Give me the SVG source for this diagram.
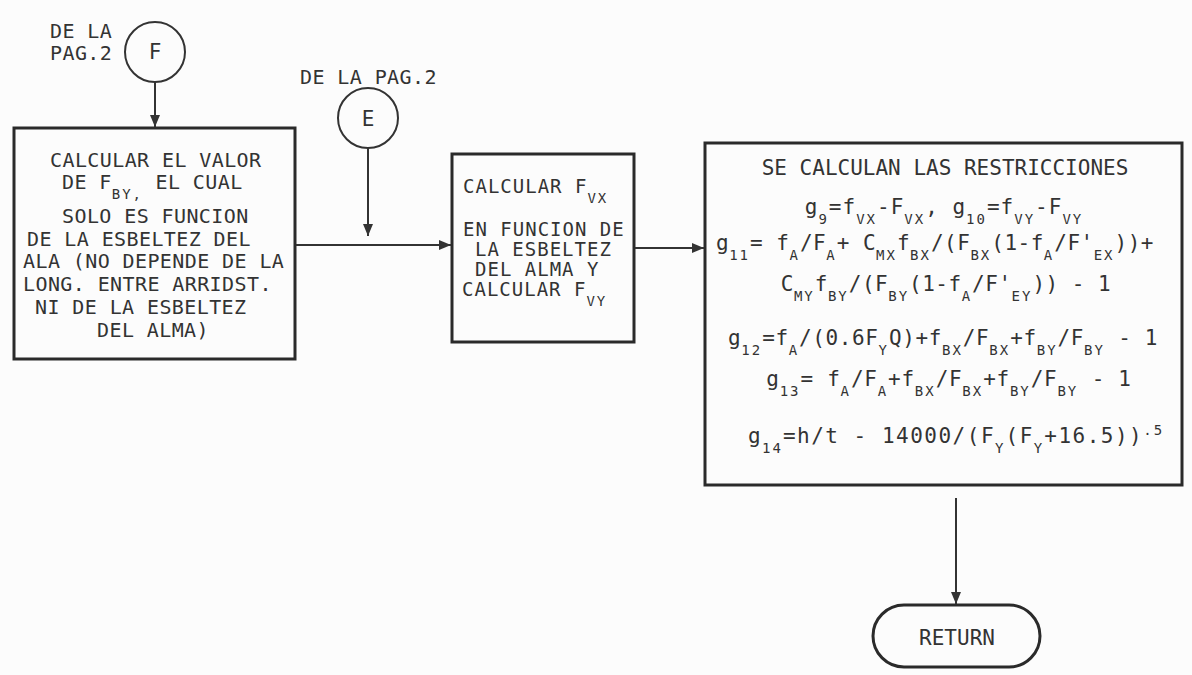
<svg xmlns="http://www.w3.org/2000/svg" width="1192" height="675" viewBox="0 0 1192 675">
<defs>
<style>
.t{font-family:"DejaVu Sans Mono","Liberation Mono",monospace;font-size:21px;fill:#333}
.a{font-size:20px;letter-spacing:0.4px}
.b{font-size:19px;letter-spacing:1px}
.m{text-anchor:middle}
.s{font-size:14px;letter-spacing:2px}
.box{fill:none;stroke:#2a2a2a;stroke-width:3}
.thin{fill:none;stroke:#333;stroke-width:2}
.con{fill:none;stroke:#333;stroke-width:2}
</style>
<marker id="ah" viewBox="0 0 12 10" refX="12" refY="5" markerWidth="12" markerHeight="10" markerUnits="userSpaceOnUse" orient="auto">
<path d="M0,0 L12,5 L0,10 Z" fill="#333"/>
</marker>
</defs>
<rect width="1192" height="675" fill="#fcfcfc"/>

<g id="connF-label">
<text class="t a" x="50" y="38">DE LA</text>
<text class="t a" x="50" y="60">PAG.2</text>
</g>
<g id="nodeF">
<circle class="thin" cx="155" cy="52" r="30"/>
<text class="t m" x="155" y="59">F</text>
</g>

<g id="connE-label">
<text class="t a" x="300" y="84">DE LA PAG.2</text>
</g>
<g id="nodeE">
<circle class="thin" cx="368" cy="118" r="30"/>
<text class="t m" x="368" y="126">E</text>
</g>

<g id="box1">
<rect class="box" x="14" y="128" width="281" height="231"/>
<text class="t a" x="50" y="167">CALCULAR EL VALOR</text>
<text class="t a" x="62" y="189">DE F<tspan class="s" dy="10">BY,</tspan><tspan dy="-10"> EL CUAL</tspan></text>
<text class="t a" x="62" y="223">SOLO ES FUNCION</text>
<text class="t a" x="27" y="246">DE LA ESBELTEZ DEL</text>
<text class="t a" x="23" y="268">ALA (NO DEPENDE DE LA</text>
<text class="t a" x="23" y="291">LONG. ENTRE ARRIDST.</text>
<text class="t a" x="35" y="314">NI DE LA ESBELTEZ</text>
<text class="t a" x="97" y="337">DEL ALMA)</text>
</g>

<g id="box2">
<rect class="box" x="452" y="154" width="182" height="188"/>
<text class="t b" x="463" y="193">CALCULAR F<tspan class="s" dy="10">VX</tspan></text>
<text class="t b" x="463" y="236">EN FUNCION DE</text>
<text class="t b" x="475" y="256">LA ESBELTEZ</text>
<text class="t b" x="475" y="276">DEL ALMA Y</text>
<text class="t b" x="462" y="296">CALCULAR F<tspan class="s" dy="10">VY</tspan></text>
</g>

<g id="box3">
<rect class="box" x="705" y="143" width="477" height="342"/>
<text class="t m" x="945" y="175">SE CALCULAN LAS RESTRICCIONES</text>
<text class="t m" x="944" y="214" letter-spacing="1">g<tspan class="s" dy="10">9</tspan><tspan dy="-10">=f</tspan><tspan class="s" dy="10">VX</tspan><tspan dy="-10">-F</tspan><tspan class="s" dy="10">VX</tspan><tspan dy="-10">, g</tspan><tspan class="s" dy="10">10</tspan><tspan dy="-10">=f</tspan><tspan class="s" dy="10">VY</tspan><tspan dy="-10">-F</tspan><tspan class="s" dy="10">VY</tspan></text>
<text class="t m" x="935" y="250" letter-spacing="0.5">g<tspan class="s" dy="10">11</tspan><tspan dy="-10">= f</tspan><tspan class="s" dy="10">A</tspan><tspan dy="-10">/F</tspan><tspan class="s" dy="10">A</tspan><tspan dy="-10">+ C</tspan><tspan class="s" dy="10">MX</tspan><tspan dy="-10">f</tspan><tspan class="s" dy="10">BX</tspan><tspan dy="-10">/(F</tspan><tspan class="s" dy="10">BX</tspan><tspan dy="-10">(1-f</tspan><tspan class="s" dy="10">A</tspan><tspan dy="-10">/F'</tspan><tspan class="s" dy="10">EX</tspan><tspan dy="-10">))+</tspan></text>
<text class="t m" x="946" y="291" letter-spacing="0.5">C<tspan class="s" dy="10">MY</tspan><tspan dy="-10">f</tspan><tspan class="s" dy="10">BY</tspan><tspan dy="-10">/(F</tspan><tspan class="s" dy="10">BY</tspan><tspan dy="-10">(1-f</tspan><tspan class="s" dy="10">A</tspan><tspan dy="-10">/F'</tspan><tspan class="s" dy="10">EY</tspan><tspan dy="-10">)) - 1</tspan></text>
<text class="t m" x="943" y="345" letter-spacing="0.6">g<tspan class="s" dy="10">12</tspan><tspan dy="-10">=f</tspan><tspan class="s" dy="10">A</tspan><tspan dy="-10">/(0.6F</tspan><tspan class="s" dy="10">Y</tspan><tspan dy="-10">Q)+f</tspan><tspan class="s" dy="10">BX</tspan><tspan dy="-10">/F</tspan><tspan class="s" dy="10">BX</tspan><tspan dy="-10">+f</tspan><tspan class="s" dy="10">BY</tspan><tspan dy="-10">/F</tspan><tspan class="s" dy="10">BY</tspan><tspan dy="-10"> - 1</tspan></text>
<text class="t m" x="949" y="386" letter-spacing="0.7">g<tspan class="s" dy="10">13</tspan><tspan dy="-10">= f</tspan><tspan class="s" dy="10">A</tspan><tspan dy="-10">/F</tspan><tspan class="s" dy="10">A</tspan><tspan dy="-10">+f</tspan><tspan class="s" dy="10">BX</tspan><tspan dy="-10">/F</tspan><tspan class="s" dy="10">BX</tspan><tspan dy="-10">+f</tspan><tspan class="s" dy="10">BY</tspan><tspan dy="-10">/F</tspan><tspan class="s" dy="10">BY</tspan><tspan dy="-10"> - 1</tspan></text>
<text class="t m" x="956" y="443" letter-spacing="1.5">g<tspan class="s" dy="10">14</tspan><tspan dy="-10">=h/t - 14000/(F</tspan><tspan class="s" dy="10">Y</tspan><tspan dy="-10">(F</tspan><tspan class="s" dy="10">Y</tspan><tspan dy="-10">+16.5))</tspan><tspan class="s" dy="-8">.5</tspan></text>
</g>

<g id="return">
<rect class="box" x="873" y="605" width="167" height="62" rx="31"/>
<text class="t m" x="957" y="645">RETURN</text>
</g>

<g id="connectors">
<line class="con" x1="155" y1="82" x2="155" y2="127" marker-end="url(#ah)"/>
<line class="con" x1="368" y1="148" x2="368" y2="236" marker-end="url(#ah)"/>
<line class="con" x1="296" y1="245" x2="451" y2="245" marker-end="url(#ah)"/>
<line class="con" x1="635" y1="248" x2="704" y2="248" marker-end="url(#ah)"/>
<line class="con" x1="956" y1="498" x2="956" y2="604" marker-end="url(#ah)"/>
</g>
</svg>
